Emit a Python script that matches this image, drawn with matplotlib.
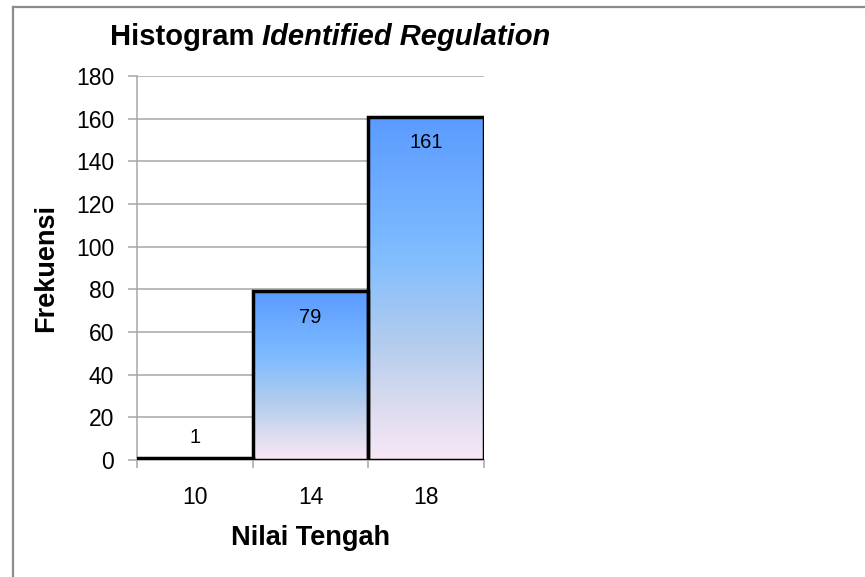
import matplotlib as mplt
mplt.use("Agg")
import matplotlib.pyplot as plt
from matplotlib.colors import LinearSegmentedColormap
from matplotlib.lines import Line2D
import numpy as np

# values
categories = [10, 14, 18]
frequencies = [1, 79, 161]
bin_width = 4
y_ticks = list(range(0, 181, 20))

plt.rcParams['font.family'] = ['Liberation Sans', 'DejaVu Sans']

GRID = '#a6a6a6'
# top of bar -> bottom of bar
grad = LinearSegmentedColormap.from_list(
    'bar_grad', [(0.0, '#5a9bff'), (0.4, '#7fbcff'), (0.65, '#b1ccee'),
                 (0.85, '#dcdcef'), (1.0, '#f9e8f7')])

fig = plt.figure(figsize=(8.65, 5.77), dpi=100)
ax = fig.add_axes([0.1584, 0.2028, 0.4012, 0.6655])

# outer chart border (only left + top fall inside the crop)
fig.add_artist(Line2D([0.0145, 0.0145], [0, 0.988], color='#8c8c8c', lw=1.6))
fig.add_artist(Line2D([0.0145, 1.0], [0.988, 0.988], color='#8c8c8c', lw=1.6))

left_edges = [c - bin_width / 2 for c in categories]
ax.set_xlim(left_edges[0], left_edges[-1] + bin_width)
ax.set_ylim(0, 180)

for y in y_ticks[1:]:
    ax.axhline(y, color=GRID, lw=1.1, zorder=0)

gradient = np.linspace(0, 1, 256).reshape(-1, 1)
for x0, h in zip(left_edges, frequencies):
    rect = plt.Rectangle((x0, 0), bin_width, h, facecolor='none',
                         edgecolor='black', lw=2.5, zorder=3)
    ax.add_patch(rect)
    im = ax.imshow(gradient, cmap=grad, aspect='auto',
                   extent=(x0, x0 + bin_width, 0, h), zorder=2,
                   interpolation='bilinear')
    im.set_clip_path(rect)

for c, h in zip(categories, frequencies):
    if h > 20:
        ax.text(c, h - 12, str(h), ha='center', va='center', fontsize=14.5)
    else:
        ax.text(c, h + 9.5, str(h), ha='center', va='center', fontsize=14.5)

ax.set_yticks(y_ticks)
ax.set_xticks(left_edges + [left_edges[-1] + bin_width])
ax.set_xticklabels([])
ax.set_xticks(categories, minor=True)
ax.set_xticklabels([str(c) for c in categories], minor=True)
ax.tick_params(axis='x', which='major', length=6, color=GRID, width=1.1, direction='out')
ax.tick_params(axis='x', which='minor', length=0, pad=19, labelsize=16.5)
ax.tick_params(axis='y', length=6.5, color=GRID, width=1.1, labelsize=16.5, pad=10)

for side in ['top', 'right']:
    ax.spines[side].set_visible(False)
for side in ['left', 'bottom']:
    ax.spines[side].set_color(GRID)
    ax.spines[side].set_linewidth(1.1)

ax.set_xlabel('Nilai Tengah', fontsize=19.5, fontweight='bold', labelpad=11)
ax.set_ylabel('Frekuensi', fontsize=19.5, fontweight='bold', labelpad=12)

t1 = fig.text(0.127, 0.936, 'Histogram ', fontsize=21, fontweight='bold',
              ha='left', va='center')
ax.annotate('Identified Regulation', xy=(1, 0), xycoords=t1, va='bottom',
            ha='left', fontsize=21, fontweight='bold', fontstyle='italic')

fig.savefig('out.png', dpi=100)
